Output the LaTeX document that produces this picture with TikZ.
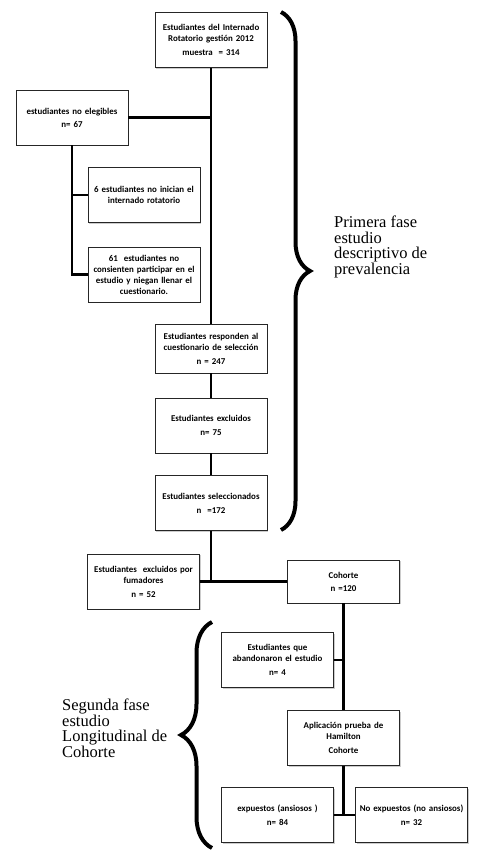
\documentclass[tikz,border=0pt]{standalone}
\usepackage{fontspec}
\setmainfont{Liberation Serif}
\newfontfamily\cajafont{Carlito}
\usepackage{tikz}
\usetikzlibrary{positioning,calc,shadows,decorations.pathreplacing}

\begin{document}
\begin{tikzpicture}[x=1pt,y=-1pt,
  caja/.style={draw=black!85,fill=white,line width=0.7pt,minimum width=112pt,minimum height=55pt,text width=112pt,align=center,inner xsep=0pt,inner ysep=2pt,
    font=\cajafont\bfseries\fontsize{8.9}{11}\selectfont,drop shadow={shadow xshift=1.4pt,shadow yshift=-1.4pt,fill=black!40}},
  linea/.style={line width=2.3pt},
  llave/.style={decorate,decoration={brace,amplitude=#1},line width=4pt},
  fase/.style={align=left,anchor=north west,inner sep=0pt,font=\fontsize{16.5}{15.5}\selectfont}]
  \useasboundingbox (0,0) rectangle (477,854);
  % primera fase
  \node[caja] (muestra) at (211,40) {Estudiantes del Internado\\ Rotatorio gestión 2012\\[3pt] muestra \ = 314};
  \node[caja] (noeleg) at (72,117.5) {estudiantes no elegibles\\[2pt] n= 67};
  \node[caja] (noinician) at (144,195) {6 estudiantes no inician el\\ internado rotatorio};
  \node[caja] (noconsienten) at (144,274.5) {61 \ estudiantes no\\ consienten participar en el\\ estudio y niegan llenar el\\ cuestionario.};
  \node[caja,minimum height=49pt] (responden) at (211,348.5) {Estudiantes responden al\\ cuestionario de selección\\[3pt] n = 247};
  \node[caja] (excluidos) at (211,425.5) {Estudiantes excluidos\\[3pt] n= 75};
  \node[caja] (selec) at (211,503) {Estudiantes seleccionados\\[3pt] n \ =172};
  \draw[linea] (muestra.south) -- (responden.north);
  \draw[linea] (noeleg.east) -- (noeleg.east -| muestra.south);
  \draw[linea] (noeleg.south) |- (noconsienten.west);
  \draw[linea] (noinician.west) -- (noinician.west -| noeleg.south);
  \draw[linea] (responden) -- (excluidos) -- (selec);
  % segunda fase
  \node[caja] (fumadores) at (143.5,581.5) {Estudiantes \ excluidos por\\ fumadores\\[3pt] n = 52};
  \node[caja,minimum height=43pt] (cohorte) at (343.5,581.5) {Cohorte\\[2pt] n =120};
  \node[caja] (abandono) at (277.5,660) {Estudiantes que\\ abandonaron el estudio\\[3pt] n= 4};
  \node[caja] (hamilton) at (343.5,738) {Aplicación prueba de\\ Hamilton\\[3pt] Cohorte};
  \node[caja] (expuestos) at (277.5,815) {expuestos (ansiosos )\\[3pt] n= 84};
  \node[caja] (noexpuestos) at (411.5,815) {No expuestos (no ansiosos)\\[3pt] n= 32};
  \draw[linea] (selec.south) -- (selec.south |- fumadores.east);
  \draw[linea] (fumadores.east) -- (cohorte.west);
  \draw[linea] (cohorte) -- (hamilton);
  \draw[linea] (abandono.east) -- (abandono.east -| cohorte.south);
  \draw[linea] (hamilton.south) -- (hamilton.south |- expuestos.east);
  \draw[linea] (expuestos.east) -- (noexpuestos.west);
  % llaves
  \coordinate (ll1a) at (281,12); \coordinate (ll1b) at (281,530);
  \coordinate (ll2a) at (212,848); \coordinate (ll2b) at (212,622);
  \draw[llave=29pt] (ll1a) -- (ll1b);
  \draw[llave=31pt] (ll2a) -- (ll2b);
  \node[fase] (txt1) at (334,216) {Primera fase\\ estudio\\ descriptivo de\\ prevalencia};
  \node[fase] (txt2) at (62,699) {Segunda fase\\ estudio\\ Longitudinal de\\ Cohorte};
\end{tikzpicture}
\end{document}
